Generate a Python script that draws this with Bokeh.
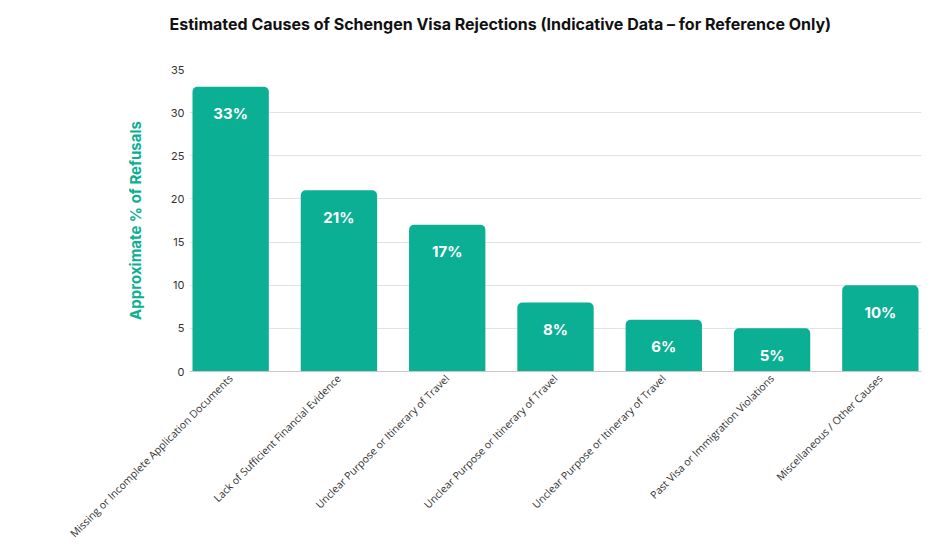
from bokeh.plotting import figure
from bokeh.models import ColumnDataSource, LabelSet, Range1d, FixedTicker, Title
from bokeh.core.properties import value
from bokeh.embed import file_html
from bokeh.resources import INLINE
import math

categories = [
    "Missing or Incomplete Application Documents",
    "Lack of Sufficient Financial Evidence",
    "Unclear Purpose or Itinerary of Travel",
    "Unclear Purpose or Itinerary of Travel",
    "Unclear Purpose or Itinerary of Travel",
    "Past Visa or Immigration Violations",
    "Miscellaneous / Other Causes",
]
values = [33, 21, 17, 8, 6, 5, 10]
value_labels = [f"{v}%" for v in values]
y_ticks = [0, 5, 10, 15, 20, 25, 30, 35]

TEAL = "#0BAF93"

xs = list(range(len(categories)))
src = ColumnDataSource(dict(x=xs, top=values, lab=value_labels))

p = figure(width=926, height=548, output_backend="svg", toolbar_location=None,
           x_range=Range1d(-0.38, len(categories) - 1 + 0.38), y_range=Range1d(0, 35),
           min_border_left=189, min_border_right=5, min_border_top=0, min_border_bottom=0)

# spacer between frame and title, then the title itself
p.add_layout(Title(text=" ", text_font="Inter", text_font_size="16px", standoff=2), "above")
p.add_layout(Title(text="Estimated Causes of Schengen Visa Rejections (Indicative Data \u2013 for Reference Only)",
                   text_font="Inter", text_font_size="16px", text_font_style="bold",
                   text_color="#111111", align="left", offset=-20, standoff=23), "above")

p.vbar(x="x", top="top", width=0.705, bottom=0, source=src, fill_color=TEAL,
       line_color=None, border_radius=(5, 5, 0, 0))

labels = LabelSet(x="x", y="top", text="lab", source=src, y_offset=-27,
                  text_align="center", text_baseline="middle",
                  text_color="white", text_font=value("Inter"), text_font_style="bold",
                  text_font_size="15px")
p.add_layout(labels)

p.xaxis.ticker = FixedTicker(ticks=xs)
p.xaxis.major_label_overrides = {i: c for i, c in enumerate(categories)}
p.xaxis.major_label_orientation = math.pi / 4
p.xaxis.major_label_text_font = "Open Sans"
p.xaxis.major_label_text_font_size = "10.5px"
p.xaxis.major_label_text_color = "#333333"
p.xaxis.major_tick_line_color = None
p.xaxis.major_tick_out = 0
p.xaxis.minor_tick_line_color = None
p.xaxis.axis_line_color = "#c8c8c8"
p.xaxis.major_label_standoff = 5

p.yaxis.ticker = FixedTicker(ticks=y_ticks)
p.yaxis.major_label_text_font = "Inter"
p.yaxis.major_label_text_font_size = "11px"
p.yaxis.major_label_text_color = "#333333"
p.yaxis.major_tick_line_color = None
p.yaxis.major_tick_out = 0
p.yaxis.minor_tick_line_color = None
p.yaxis.axis_line_color = None
p.yaxis.major_label_standoff = 5
p.yaxis.axis_label = "Approximate % of Refusals"
p.yaxis.axis_label_text_font = "Inter"
p.yaxis.axis_label_text_font_style = "bold"
p.yaxis.axis_label_text_font_size = "15px"
p.yaxis.axis_label_text_color = TEAL
p.yaxis.axis_label_standoff = 23

p.xgrid.grid_line_color = None
p.ygrid.grid_line_color = "#e2e2e2"
p.outline_line_color = None

open("out.html", "w").write(file_html(p, INLINE))
